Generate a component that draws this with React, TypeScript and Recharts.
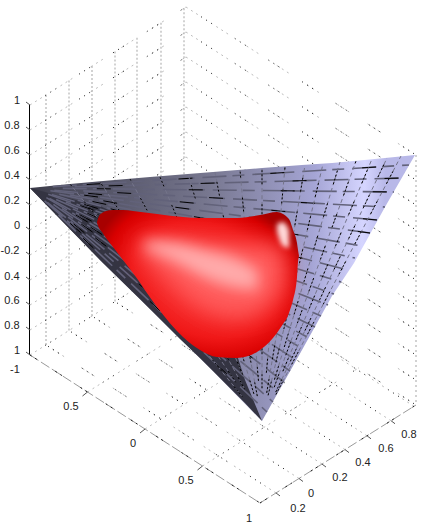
import { ComposedChart, Area, Line, Scatter, XAxis, YAxis } from "recharts";

const WIDTH = 427;
const HEIGHT = 526;

// outline of the surface
const surfaceRows = [
  { x: 30, range: [188, 188] },
  { x: 70, range: [184, 229] },
  { x: 103, range: [181, 263] },
  { x: 150, range: [177, 309] },
  { x: 213, range: [172, 371] },
  { x: 262, range: [168, 421] },
  { x: 302, range: [165, 350] },
  { x: 332, range: [163, 296] },
  { x: 354, range: [161, 263] },
  { x: 385, range: [158, 207] },
  { x: 415, range: [155, 155] },
];

// dark underside of the surface
const undersideRows = [
  { x: 30, range: [188, 188] },
  { x: 60, range: [196, 219] },
  { x: 100, range: [206, 260] },
  { x: 140, range: [225, 299] },
  { x: 180, range: [300, 339] },
  { x: 200, range: [340, 358] },
  { x: 237, range: [355, 395] },
  { x: 245, range: [380, 403] },
  { x: 262, range: [421, 421] },
];

const blobRows = [
  { x: 97, range: [222, 223] },
  { x: 99, range: [216, 228] },
  { x: 102, range: [213, 232] },
  { x: 106, range: [211, 238] },
  { x: 113, range: [210, 247] },
  { x: 123, range: [210, 260] },
  { x: 133, range: [211, 273] },
  { x: 157, range: [214, 307] },
  { x: 183, range: [217, 337] },
  { x: 200, range: [218, 350] },
  { x: 217, range: [218, 357] },
  { x: 237, range: [218, 358] },
  { x: 260, range: [215, 350] },
  { x: 277, range: [212, 333] },
  { x: 283, range: [214, 324] },
  { x: 287, range: [217, 318] },
  { x: 290, range: [221, 310] },
  { x: 293, range: [230, 300] },
  { x: 297, range: [243, 277] },
  { x: 298, range: [250, 262] },
  { x: 299, range: [256, 256] },
];

const glowRows = [
  { x: 140, range: [242, 256] },
  { x: 170, range: [240, 280] },
  { x: 205, range: [244, 308] },
  { x: 240, range: [244, 318] },
  { x: 270, range: [244, 305] },
  { x: 285, range: [252, 285] },
];

const streakRows = [
  { x: 145, range: [241, 249] },
  { x: 175, range: [243, 262] },
  { x: 205, range: [250, 278] },
  { x: 235, range: [258, 288] },
  { x: 258, range: [270, 290] },
];

const glintRows = [
  { x: 277, range: [224, 232] },
  { x: 283, range: [222, 246] },
  { x: 289, range: [230, 248] },
];

// mesh ends
const leftTip = { x: 30, y: 188 };
const bottomTip = { x: 262, y: 421 };
const rightEdgeEnds = [
  [409, 165], [402, 178], [394, 192], [385, 207], [377, 220], [370, 233], [362, 246],
  [355, 258], [348, 270], [341, 282], [334, 294], [328, 305], [321, 316], [315, 327],
  [309, 338], [303, 349], [296, 360], [290, 371], [284, 382], [278, 392], [273, 402], [267, 412],
];
const topEdgeEnds = [
  [70, 184], [100, 182], [130, 179], [160, 177], [188, 174], [215, 172], [240, 170], [262, 169],
  [285, 167], [305, 165], [323, 164], [340, 162], [356, 161], [372, 159], [387, 158], [401, 156],
];
const tipSkips = [0.06, 0.12, 0.09, 0.15, 0.07];

// box corners of the 3D axes
const wallLevels = [105, 130, 155, 180, 205, 230, 255, 280, 305, 330, 355];
const yOffsets = [16, 39, 62, 85, 107, 131, 154];
const xFractions = [0.25, 0.5, 0.75];

const xAxisEnds = [
  { x: 30, y: 355 },
  { x: 260, y: 503 },
];
const yAxisEnds = [
  { x: 260, y: 503 },
  { x: 416, y: 405 },
];
const zAxisEnds = [
  { x: 29.5, y: 105 },
  { x: 29.5, y: 355 },
];
const rightEdge = [
  { x: 416, y: 155 },
  { x: 416, y: 405 },
];

const tickLabels = [
  { x: 17, y: 100, text: "1" },
  { x: 12, y: 125, text: "0.8" },
  { x: 12, y: 150, text: "0.6" },
  { x: 12, y: 175, text: "0.4" },
  { x: 12, y: 200, text: "0.2" },
  { x: 17, y: 225, text: "0" },
  { x: 10, y: 250, text: "-0.2" },
  { x: 12, y: 276, text: "0.4" },
  { x: 12, y: 300, text: "0.6" },
  { x: 12, y: 325, text: "0.8" },
  { x: 17, y: 350, text: "1" },
  { x: 15, y: 369, text: "-1" },
  { x: 71, y: 406, text: "0.5" },
  { x: 133, y: 443, text: "0" },
  { x: 186, y: 480, text: "0.5" },
  { x: 249, y: 518, text: "1" },
  { x: 298, y: 508, text: "0.2" },
  { x: 311, y: 493, text: "0" },
  { x: 340, y: 477, text: "0.2" },
  { x: 363, y: 462, text: "0.4" },
  { x: 386, y: 448, text: "0.6" },
  { x: 409, y: 434, text: "0.8" },
];

const SLOPE = 98 / 156;
const seg = (x1: number, y1: number, x2: number, y2: number) => [
  { x: x1, y: y1 },
  { x: x2, y: y2 },
];

const diagonalGrid = [
  ...wallLevels.map((b) => seg(30, b, 186, b - 98)),
  ...wallLevels.map((b) => seg(186, b - 98, 416, b + 50)),
  ...xFractions.map((f) => seg(30 + 230 * f, 355 + 148 * f, 186 + 230 * f, 257 + 148 * f)),
  ...yOffsets.map((o) => seg(260 + o, 503 - o * SLOPE, 30 + o, 355 - o * SLOPE)),
];
const verticalGrid = yOffsets.map((o) => seg(30 + o, 105 - o * SLOPE, 30 + o, 355 - o * SLOPE));

const tickStubs = [
  ...wallLevels.map((b) => seg(26, b - 3, 30, b)),
  ...xFractions.map((f) => seg(30 + 230 * f, 355 + 148 * f, 25 + 230 * f, 359 + 148 * f)),
  ...yOffsets.slice(0, 6).map((o) => seg(260 + o, 503 - o * SLOPE, 264 + o, 506 - o * SLOPE)),
];

// mesh lines stop short of the tips, where the reference turns to a dark smear
const fromTip = (tip: { x: number; y: number }, [x, y]: number[], skip: number) =>
  seg(tip.x + (x - tip.x) * skip, tip.y + (y - tip.y) * skip, x, y);
const meshA = rightEdgeEnds.map((end, i) => fromTip(leftTip, end, tipSkips[i % tipSkips.length]));
const meshB = topEdgeEnds.map((end, i) => fromTip(bottomTip, end, tipSkips[i % tipSkips.length] + 0.04));

// layer order
const Z_GRID = 1;
const Z_SURFACE = 2;
const Z_UNDERSIDE = 3;
const Z_MESH = 4;
const Z_BLOB = 5;
const Z_GLOW = 6;
const Z_SHINE = 7;

const line = (id: string, data: { x: number; y: number }[], stroke: string, width: number, z: number, dash?: string) => (
  <Line
    key={id}
    data={data}
    dataKey="y"
    type="linear"
    stroke={stroke}
    strokeWidth={width}
    strokeDasharray={dash}
    dot={false}
    activeDot={false}
    legendType="none"
    zIndex={z}
    isAnimationActive={false}
  />
);

const band = (
  id: string,
  data: { x: number; range: number[] }[],
  fill: string,
  curve: "linear" | "monotone",
  z: number,
  filter?: string,
) => (
  <Area
    key={id}
    data={data}
    dataKey="range"
    type={curve}
    fill={fill}
    fillOpacity={1}
    stroke="none"
    dot={false}
    activeDot={false}
    legendType="none"
    filter={filter}
    zIndex={z}
    isAnimationActive={false}
  />
);

const LabelMark = (props: any) => (
  <text
    x={props.cx}
    y={props.cy}
    textAnchor="middle"
    dominantBaseline="central"
    fontFamily="Liberation Sans, Arial, sans-serif"
    fontSize={11}
    fill="#222"
  >
    {props.payload.text}
  </text>
);

export default function App() {
  return (
    <div style={{ position: "absolute", left: 0, top: 0, width: WIDTH, height: HEIGHT }}>
      <ComposedChart width={WIDTH} height={HEIGHT} margin={{ top: 0, right: 0, bottom: 0, left: 0 }}>
        <defs>
          <linearGradient id="surfaceFill" gradientUnits="userSpaceOnUse" x1="30" y1="188" x2="385" y2="200">
            <stop offset="0%" stopColor="#3c3c4a" />
            <stop offset="50%" stopColor="#77778f" />
            <stop offset="80%" stopColor="#a5a5d5" />
            <stop offset="94%" stopColor="#d5d5ff" />
            <stop offset="100%" stopColor="#b8b8e8" />
          </linearGradient>
          <radialGradient
            id="blobFill"
            gradientUnits="userSpaceOnUse"
            cx="0"
            cy="0"
            r="1"
            gradientTransform="translate(205 280) rotate(20) scale(115 85)"
          >
            <stop offset="0%" stopColor="#ff4a4a" />
            <stop offset="65%" stopColor="#f01818" />
            <stop offset="88%" stopColor="#d80000" />
            <stop offset="100%" stopColor="#a80000" />
          </radialGradient>
          <filter id="softBroad" x="-30%" y="-50%" width="160%" height="200%">
            <feGaussianBlur stdDeviation="11" />
          </filter>
          <filter id="softWide" x="-30%" y="-50%" width="160%" height="200%">
            <feGaussianBlur stdDeviation="7" />
          </filter>
          <filter id="softNarrow" x="-80%" y="-50%" width="260%" height="200%">
            <feGaussianBlur stdDeviation="2.5" />
          </filter>
        </defs>

        <XAxis type="number" dataKey="x" domain={[0, WIDTH]} hide allowDataOverflow />
        <YAxis type="number" dataKey="y" domain={[0, HEIGHT]} reversed hide allowDataOverflow />

        {/* box grid */}
        {verticalGrid.map((d, i) => line(`vg${i}`, d, "#c4c4c4", 1.5, Z_GRID, "2 2"))}
        {diagonalGrid.map((d, i) => line(`dg${i}`, d, "#bcbcbc", 1, Z_GRID, "2 4 2 4 2 22"))}
        {diagonalGrid.map((d, i) => line(`db${i}`, d, "#111", 1, Z_GRID, "0 18 1 5 1 5 1 9"))}
        {line("right", rightEdge, "#c4c4c4", 1.5, Z_GRID, "2 3")}

        {/* axes */}
        {line("xGrey", xAxisEnds, "#9a9a9a", 1, Z_GRID, "10 3")}
        {line("xBlack", xAxisEnds, "#222", 1, Z_GRID, "2 4 2 22")}
        {line("yGrey", yAxisEnds, "#9a9a9a", 1, Z_GRID, "10 3")}
        {line("yBlack", yAxisEnds, "#222", 1, Z_GRID, "2 4 2 22")}
        {line("z", zAxisEnds, "#000", 1, Z_GRID)}
        {tickStubs.map((d, i) => line(`st${i}`, d, "#555", 1, Z_GRID))}

        {/* surface */}
        {band("surface", surfaceRows, "url(#surfaceFill)", "linear", Z_SURFACE)}
        {band("underside", undersideRows, "#343442", "linear", Z_UNDERSIDE)}
        {meshA.map((d, i) => line(`ma${i}`, d, "#62627a", 1.6, Z_MESH, "24 6 12 8"))}
        {meshA.map((d, i) => line(`mk${i}`, d, "#000", 1, Z_MESH, "0 34 14 44"))}
        {meshB.map((d, i) => line(`mb${i}`, d, "#74748a", 1, Z_MESH, "4 3"))}
        {meshB.map((d, i) => line(`mc${i}`, d, "#000", 1, Z_MESH, "2 2 2 2 2 2 2 20"))}

        {/* red blob */}
        {band("blob", blobRows, "url(#blobFill)", "monotone", Z_BLOB)}
        {band("glow", glowRows, "#ff5c5c", "monotone", Z_GLOW, "url(#softBroad)")}
        {band("streak", streakRows, "#ffaaaa", "monotone", Z_SHINE, "url(#softWide)")}
        {band("glint", glintRows, "#ffd8d8", "monotone", Z_SHINE, "url(#softNarrow)")}

        <Scatter data={tickLabels} dataKey="y" shape={LabelMark} legendType="none" isAnimationActive={false} />
      </ComposedChart>
    </div>
  );
}
